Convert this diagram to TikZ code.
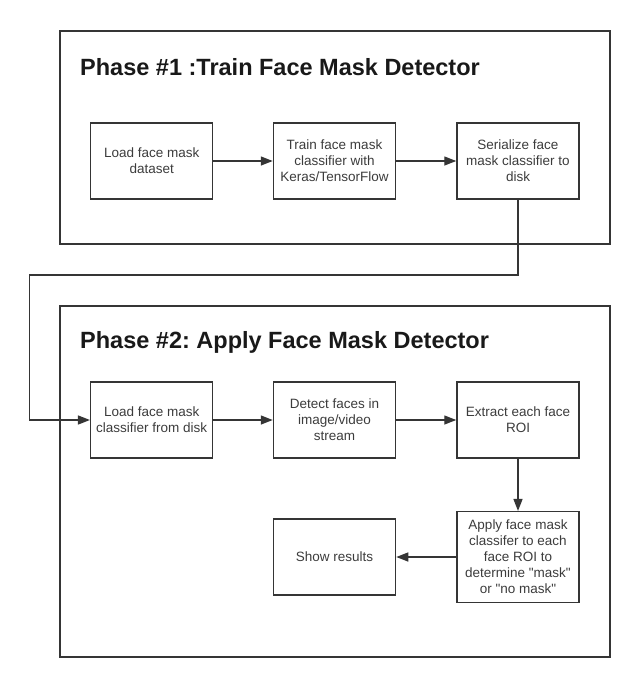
\documentclass[tikz,border=0pt]{standalone}
\usepackage{fontspec}
\setmainfont{Liberation Sans}[Ligatures=TeXOff]
\usetikzlibrary{arrows.meta}
\definecolor{framegray}{HTML}{353535}
\definecolor{textgray}{HTML}{3C3C3C}
\frenchspacing
\begin{document}
\begin{tikzpicture}[
    frame/.style={draw=framegray, line width=1.7pt, inner sep=0pt},
    stepbox/.style={draw=framegray, line width=1.5pt, minimum width=122pt, minimum height=76pt,
        inner sep=0pt, align=center, text=textgray, font=\fontsize{13.5}{16}\selectfont},
    phasetitle/.style={anchor=base west, inner sep=0pt, text=black!90, font=\fontsize{23.5}{28}\selectfont\bfseries},
    arr/.style={draw=framegray, line width=1.4pt, -{Triangle[length=12pt, width=9pt]}}
]
    \useasboundingbox (0pt,0pt) rectangle (635pt,-675pt);
    \node[frame, minimum width=550pt, minimum height=213pt] (frameTrain) at (335pt, -137.5pt) {};
    \node[phasetitle] (titleTrain) at (80pt, -75pt) {Phase \#1 :Train Face Mask Detector};
    \node[stepbox] (loadData) at (151.7pt, -161pt) {Load face mask\\dataset};
    \node[stepbox] (trainNet) at (334.5pt, -161pt) {Train face mask\\classifier with\\Keras/TensorFlow};
    \node[stepbox] (saveNet) at (518pt, -161pt) {Serialize face\\mask classifier to\\disk};
    \node[frame, minimum width=550pt, minimum height=351pt] (frameApply) at (335pt, -481.5pt) {};
    \node[phasetitle] (titleApply) at (80pt, -348pt) {Phase \#2: Apply Face Mask Detector};
    \node[stepbox] (loadNet) at (151.7pt, -420pt) {Load face mask\\classifier from disk};
    \node[stepbox] (detectFaces) at (334.5pt, -420pt) {Detect faces in\\image/video\\stream};
    \node[stepbox] (extractRoi) at (518pt, -420pt) {Extract each face\\ROI};
    \node[stepbox, minimum height=90.6pt] (classifyRoi) at (518pt, -557pt) {Apply face mask\\classifer to each\\face ROI to\\determine "mask"\\or "no mask"};
    \node[stepbox] (showResults) at (334.5pt, -557pt) {Show results};
    \coordinate (detour) at (29.3pt, -275pt);
    \draw[arr] (loadData) -- (trainNet);
    \draw[arr] (trainNet) -- (saveNet);
    \draw[arr] (saveNet.south) |- (detour) |- (loadNet.west);
    \draw[arr] (loadNet) -- (detectFaces);
    \draw[arr] (detectFaces) -- (extractRoi);
    \draw[arr] (extractRoi) -- (classifyRoi);
    \draw[arr] (classifyRoi) -- (showResults);
\end{tikzpicture}
\end{document}
